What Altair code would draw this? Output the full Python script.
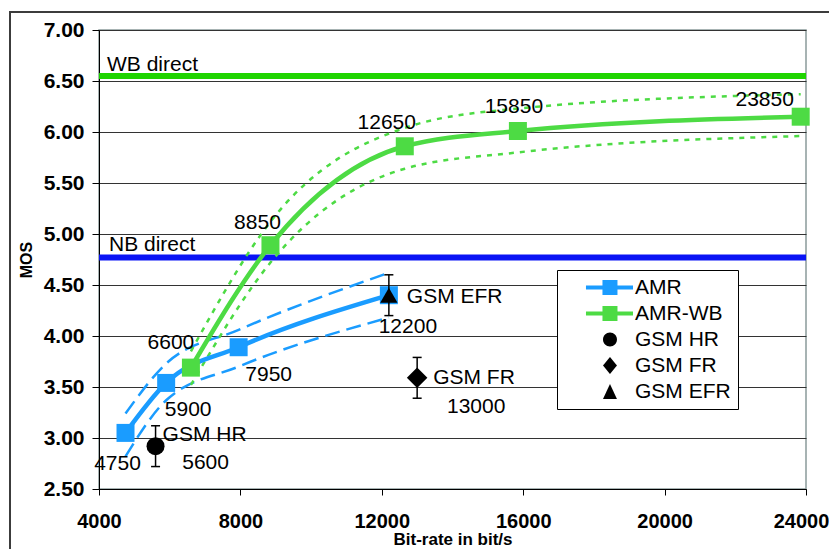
import altair as alt
import pandas as pd

# ---------------- data ----------------
amr_rate = [4750, 5900, 7950, 12200]
amr_mos = [3.05, 3.54, 3.89, 4.40]
amr_upper = [3.24, 3.73, 4.06, 4.62]
amr_lower = [2.82, 3.37, 3.70, 4.18]

wb_rate = [6600, 8850, 12650, 15850, 23850]
wb_mos = [3.69, 4.89, 5.86, 6.01, 6.15]
wb_upper = [3.85, 5.12, 6.04, 6.23, 6.37]
wb_lower = [3.52, 4.72, 5.64, 5.80, 5.96]

gsm_names = ["GSM HR", "GSM FR", "GSM EFR"]
gsm_rate = [5600, 13000, 12200]
gsm_mos = [2.92, 3.59, 4.40]
gsm_ci = [0.20, 0.20, 0.20]

ref_names = ["WB direct", "NB direct"]
ref_mos = [6.55, 4.77]

series_names = ["AMR", "AMR-WB", "GSM HR", "GSM FR", "GSM EFR"]
x_ticks = [4000, 8000, 12000, 16000, 20000, 24000]
y_ticks = [2.5, 3.0, 3.5, 4.0, 4.5, 5.0, 5.5, 6.0, 6.5, 7.0]

# ---------------- styles ----------------
FONT = "Liberation Sans"
BLUE = "#1a9cff"
GREEN = "#4ddb44"
WB_GREEN = "#1fd400"
NB_BLUE = "#0a14f5"
LABEL_SIZE = 21

xscale = alt.Scale(domain=[4000, 24000], nice=False, zero=False)
yscale = alt.Scale(domain=[2.5, 7.0], nice=False, zero=False)
xaxis = alt.Axis(values=x_ticks, format="d", title="Bit-rate in bit/s", grid=False,
                 tickSize=6, labelPadding=16, titlePadding=0, labelFlush=False,
                 labelFontSize=20,
                 labelOffset={"condition": {"test": f"datum.value == {x_ticks[-1]}", "value": -5},
                              "value": 0})
yaxis = alt.Axis(values=y_ticks, format=".2f", title="MOS", grid=True,
                 tickSize=7, labelPadding=8, titlePadding=9, labelFlush=False,
                 labelFontSize=21, titleFontSize=16)


def X(field="rate"):
    return alt.X(f"{field}:Q", scale=xscale, axis=xaxis)


def Y(field="mos"):
    return alt.Y(f"{field}:Q", scale=yscale, axis=yaxis)


amr_df = pd.DataFrame({"rate": amr_rate, "mos": amr_mos})
amr_up_df = pd.DataFrame({"rate": amr_rate, "mos": amr_upper})
amr_lo_df = pd.DataFrame({"rate": amr_rate, "mos": amr_lower})
wb_df = pd.DataFrame({"rate": wb_rate, "mos": wb_mos})
wb_up_df = pd.DataFrame({"rate": wb_rate, "mos": wb_upper})
wb_lo_df = pd.DataFrame({"rate": wb_rate, "mos": wb_lower})
gsm_df = pd.DataFrame({
    "name": gsm_names, "rate": gsm_rate, "mos": gsm_mos,
    "lo": [m - c for m, c in zip(gsm_mos, gsm_ci)],
    "hi": [m + c for m, c in zip(gsm_mos, gsm_ci)],
})
ref_df = pd.DataFrame({"name": ref_names, "mos": ref_mos, "rate": [x_ticks[0]] * len(ref_names)})

layers = []

# outer frame (decoration)
layers.append(
    alt.Chart(pd.DataFrame({"k": [0]})).mark_rect(filled=False, stroke="#3c3c3c", strokeWidth=2).encode(
        x=alt.value(-89), x2=alt.value(900), y=alt.value(-18), y2=alt.value(700)
    )
)

# reference lines
ref_colors = {"WB direct": WB_GREEN, "NB direct": NB_BLUE}
for nm in ref_names:
    layers.append(
        alt.Chart(ref_df).transform_filter(alt.datum.name == nm)
        .mark_rule(color=ref_colors[nm], strokeWidth=6)
        .encode(y=Y())
    )

# confidence bands
layers.append(alt.Chart(amr_up_df).mark_line(color=BLUE, strokeWidth=2.5, strokeDash=[15, 7],
                                             interpolate="monotone").encode(x=X(), y=Y()))
layers.append(alt.Chart(amr_lo_df).mark_line(color=BLUE, strokeWidth=2.5, strokeDash=[15, 7],
                                             interpolate="monotone").encode(x=X(), y=Y()))
layers.append(alt.Chart(wb_up_df).mark_line(color=GREEN, strokeWidth=2.5, strokeDash=[5, 6],
                                            interpolate="monotone").encode(x=X(), y=Y()))
layers.append(alt.Chart(wb_lo_df).mark_line(color=GREEN, strokeWidth=2.5, strokeDash=[5, 6],
                                            interpolate="monotone").encode(x=X(), y=Y()))

# main curves
layers.append(alt.Chart(amr_df).mark_line(color=BLUE, strokeWidth=4.5, interpolate="monotone")
              .encode(x=X(), y=Y()))
layers.append(alt.Chart(wb_df).mark_line(color=GREEN, strokeWidth=4.5, interpolate="monotone")
              .encode(x=X(), y=Y()))
layers.append(alt.Chart(amr_df).mark_square(color=BLUE, size=324, opacity=1).encode(x=X(), y=Y()))
layers.append(alt.Chart(wb_df).mark_square(color=GREEN, size=324, opacity=1).encode(x=X(), y=Y()))

# GSM error bars and markers
layers.append(alt.Chart(gsm_df).mark_rule(color="black", strokeWidth=1.5)
              .encode(x=X(), y=Y("lo"), y2="hi:Q"))
for fld in ["lo", "hi"]:
    layers.append(alt.Chart(gsm_df).mark_tick(color="black", orient="horizontal", size=9,
                                              thickness=1.5, opacity=1)
                  .encode(x=X(), y=Y(fld)))
gsm_shapes = {"GSM HR": ("circle", 324), "GSM FR": ("diamond", 420), "GSM EFR": ("triangle-up", 300)}
for nm in gsm_names:
    shp, sz = gsm_shapes[nm]
    layers.append(alt.Chart(gsm_df).transform_filter(alt.datum.name == nm)
                  .mark_point(shape=shp, size=sz, filled=True, color="black", opacity=1)
                  .encode(x=X(), y=Y()))

# text labels
def label(df, idx, text, dx, dy, align="center"):
    return (alt.Chart(df).transform_window(row="row_number()")
            .transform_filter(alt.datum.row == idx + 1)
            .transform_calculate(lab=text)
            .mark_text(font=FONT, fontSize=LABEL_SIZE, color="black", dx=dx, dy=dy,
                       align=align, baseline="middle")
            .encode(x=X(), y=Y(), text="lab:N"))

amr_offsets = [(-8, 31), (22, 27), (30, 28), (19, 32)]
for i, (dx, dy) in enumerate(amr_offsets):
    layers.append(label(amr_df, i, "format(datum.rate, 'd')", dx, dy))
wb_offsets = [(-20, -25), (-13, -22), (-18, -23), (-4, -24), (-36, -17)]
for i, (dx, dy) in enumerate(wb_offsets):
    layers.append(label(wb_df, i, "format(datum.rate, 'd')", dx, dy))
gsm_name_offsets = [(7, -11), (16, 0), (18, 2)]
gsm_rate_offsets = [(50, 17), (59, 29), None]
for i in range(len(gsm_names)):
    dx, dy = gsm_name_offsets[i]
    layers.append(label(gsm_df, i, "datum.name", dx, dy, "left"))
    if gsm_rate_offsets[i] is not None:
        dx, dy = gsm_rate_offsets[i]
        layers.append(label(gsm_df, i, "format(datum.rate, 'd')", dx, dy))
ref_offsets = [(8, -11), (10, -12)]
for i, (dx, dy) in enumerate(ref_offsets):
    layers.append(label(ref_df, i, "datum.name", dx, dy, "left"))

# legend (scale-driven; the layer itself draws nothing)
legend_shapes = [
    "M1.53,-0.27 L7.8,-0.27 L7.8,0.27 L1.53,0.27 Z M3.73,-1 L5.73,-1 L5.73,1 L3.73,1 Z",
    "M1.53,-0.27 L7.8,-0.27 L7.8,0.27 L1.53,0.27 Z M3.73,-1 L5.73,-1 L5.73,1 L3.73,1 Z",
    "M3.8,0 A0.93,0.93 0 1,0 5.66,0 A0.93,0.93 0 1,0 3.8,0 Z",
    "M4.73,-1.13 L5.66,0 L4.73,1.13 L3.8,0 Z",
    "M4.73,-1 L5.66,1 L3.8,1 Z",
]
legend_colors = [BLUE, GREEN, "black", "black", "black"]
leg = alt.Legend(orient="none", legendX=458, legendY=240, title=None, strokeColor="black",
                 fillColor="white", padding=7, labelFontSize=LABEL_SIZE, labelFont=FONT,
                 labelColor="black", symbolSize=225, labelOffset=50, rowPadding=4,
                 labelExpr="datum.label + '    '", labelLimit=400, symbolStrokeWidth=0)
legend_df = pd.DataFrame({"series": series_names})
layers.append(
    alt.Chart(legend_df).transform_filter("false")
    .mark_point(filled=True, size=225, opacity=1)
    .encode(
        color=alt.Color("series:N", scale=alt.Scale(domain=series_names, range=legend_colors), legend=leg),
        shape=alt.Shape("series:N", scale=alt.Scale(domain=series_names, range=legend_shapes), legend=leg),
    )
)

chart = (
    alt.layer(*layers)
    .properties(width=707, height=459,
                padding={"left": 91, "top": 22, "right": 23, "bottom": 60},
                autosize=alt.AutoSizeParams(type="none"))
    .configure_view(stroke="#8a9a9a", strokeWidth=1.5)
    .configure_axis(labelFont=FONT, titleFont=FONT, labelColor="black", titleColor="black",
                    domainColor="black", tickColor="black", gridColor="#333333", gridWidth=1,
                    labelFontWeight="bold", titleFontSize=17, titleFontWeight="bold")
)

chart.save("out.html", embed_options={"renderer": "svg", "actions": False})
